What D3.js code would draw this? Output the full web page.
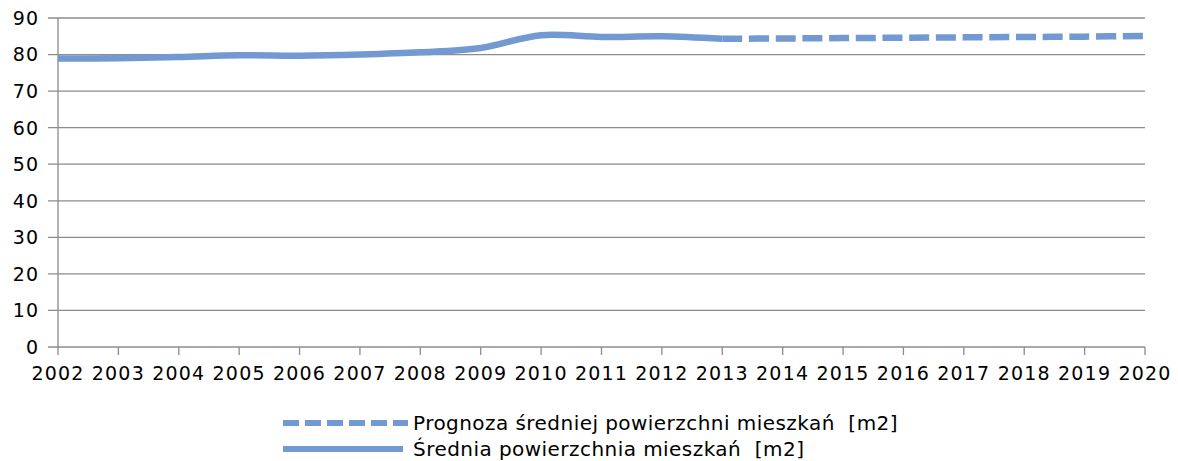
<!DOCTYPE html>
<html>
<head>
<meta charset="utf-8">
<script src="https://cdn.jsdelivr.net/npm/d3@7"></script>
<style>
    body { margin: 0; background: #fff; }
    svg text { font-family: "DejaVu Sans", sans-serif; fill: #000; white-space: pre; }
</style>
</head>
<body>
<svg id="chart"></svg>
<script>
// actual values 2002-2013
var actualYears = [2002, 2003, 2004, 2005, 2006, 2007, 2008, 2009, 2010, 2011, 2012, 2013];
var actualValues = [78.9, 79.0, 79.3, 79.8, 79.7, 80.0, 80.6, 81.8, 85.3, 84.8, 85.0, 84.3];

// forecast 2013-2020
var forecastYears = [2013, 2014, 2015, 2016, 2017, 2018, 2019, 2020];
var forecastValues = [84.3, 84.4, 84.5, 84.6, 84.7, 84.8, 84.9, 85.1];

var yTicks = [0, 10, 20, 30, 40, 50, 60, 70, 80, 90];
var xTicks = d3.range(2002, 2021);

var seriesNames = [
    "Prognoza średniej powierzchni mieszkań  [m2]",
    "Średnia powierzchnia mieszkań  [m2]"
];

var width = 1178,
    height = 461,
    margin = {top: 18, right: 33, bottom: 114, left: 58},
    color = "#7299d1",
    gridColor = "#8c8c8c";

var svg = d3.select("svg#chart")
    .attr("width", width)
    .attr("height", height);

var x = d3.scaleLinear()
    .domain([2002, 2020])
    .range([margin.left, width - margin.right]);

var y = d3.scaleLinear()
    .domain([0, 90])
    .range([height - margin.bottom, margin.top]);

// gridlines
svg.append("g")
    .selectAll("line")
    .data(yTicks)
    .enter()
    .append("line")
        .attr("x1", margin.left - 10)
        .attr("x2", width - margin.right)
        .attr("y1", function(d) { return y(d); })
        .attr("y2", function(d) { return y(d); })
        .style("stroke", gridColor)
        .style("stroke-width", 1.3);

// y labels
svg.append("g")
    .selectAll("text")
    .data(yTicks)
    .enter()
    .append("text")
        .attr("x", margin.left - 19)
        .attr("y", function(d) { return y(d); })
        .attr("dy", "0.36em")
        .attr("text-anchor", "end")
        .style("font-size", "19px")
        .style("letter-spacing", "1px")
        .text(function(d) { return d; });

// y axis line
svg.append("line")
    .attr("x1", margin.left)
    .attr("x2", margin.left)
    .attr("y1", y(90))
    .attr("y2", y(0))
    .style("stroke", gridColor)
    .style("stroke-width", 1.3);

// x ticks
svg.append("g")
    .selectAll("line")
    .data(xTicks)
    .enter()
    .append("line")
        .attr("x1", function(d) { return x(d); })
        .attr("x2", function(d) { return x(d); })
        .attr("y1", y(0))
        .attr("y2", y(0) + 8)
        .style("stroke", gridColor)
        .style("stroke-width", 1.3);

svg.append("g")
    .selectAll("text")
    .data(xTicks)
    .enter()
    .append("text")
        .attr("x", function(d) { return x(d); })
        .attr("y", y(0) + 33)
        .attr("text-anchor", "middle")
        .style("font-size", "19px")
        .style("letter-spacing", "1.2px")
        .text(function(d) { return d; });

var line = d3.line()
    .x(function(d) { return x(d[0]); })
    .y(function(d) { return y(d[1]); })
    .curve(d3.curveCatmullRom.alpha(0));

svg.append("path")
    .attr("d", line(d3.zip(actualYears, actualValues)))
    .style("fill", "none")
    .style("stroke", color)
    .style("stroke-width", 6.5);

svg.append("path")
    .attr("d", line(d3.zip(forecastYears, forecastValues)))
    .style("fill", "none")
    .style("stroke", color)
    .style("stroke-width", 6.5)
    .style("stroke-dasharray", "20,6.7");

// legend
var legend = svg.append("g")
    .attr("transform", "translate(283, 423)");

var legend_g = legend.selectAll("g")
    .data(seriesNames)
    .enter()
    .append("g")
        .attr("transform", function(d, i) {
            return "translate(" + [0, i * 26] + ")";
        });

legend_g.append("line")
    .attr("x1", 0)
    .attr("x2", function(d, i) { return i === 0 ? 125 : 120; })
    .attr("y1", 0)
    .attr("y2", 0)
    .style("stroke", color)
    .style("stroke-width", 6)
    .style("stroke-dasharray", function(d, i) { return i === 0 ? "16,6" : null; });

legend_g.append("text")
    .attr("x", 130)
    .attr("y", 0)
    .attr("dy", "0.36em")
    .style("font-size", "20px")
    .style("letter-spacing", "0.45px")
    .text(function(d) { return d; });
</script>
</body>
</html>
